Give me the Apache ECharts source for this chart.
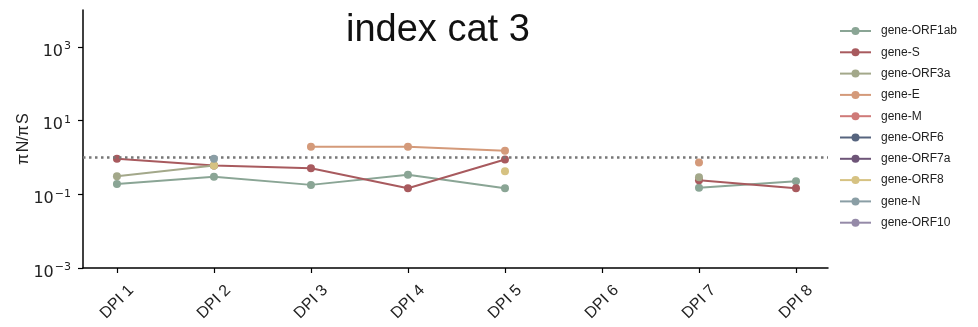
<!DOCTYPE html>
<html>
<head>
<meta charset="utf-8">
<script src="https://cdn.jsdelivr.net/npm/echarts@6/dist/echarts.min.js"></script>
<style>html,body{margin:0;padding:0;background:#fff}#c{width:978px;height:327px}</style>
</head>
<body>
<div id="c"></div>
<script>
const categories = ['DPI 1','DPI 2','DPI 3','DPI 4','DPI 5','DPI 6','DPI 7','DPI 8'];
const geneNames = ['gene-ORF1ab','gene-S','gene-ORF3a','gene-E','gene-M','gene-ORF6','gene-ORF7a','gene-ORF8','gene-N','gene-ORF10'];
const geneColors = ['#8aa595','#a85a5e','#a3a88a','#d49a7a','#cf7a78','#56647e','#6e5578','#d6c282','#8a9ea5','#958aa8'];
const ORF1ab = [0.19, 0.30, 0.18, 0.34, 0.146, null, 0.15, 0.225];
const S      = [0.92, 0.60, 0.51, 0.146, 0.88, null, 0.24, 0.146];
const ORF3a  = [0.31, 0.60, null, null, null, null, 0.29, null];
const E      = [null, null, 1.95, 1.95, 1.52, null, 0.73, null];
const M      = [null, null, null, null, null, null, null, null];
const ORF6   = [null, null, null, null, null, null, null, null];
const ORF7a  = [null, null, null, null, null, null, null, null];
const ORF8   = [null, 0.60, null, null, 0.42, null, null, null];
const N      = [null, 0.92, null, null, null, null, null, null];
const ORF10  = [null, null, null, null, null, null, null, null];
const seriesValues = [ORF1ab, S, ORF3a, E, M, ORF6, ORF7a, ORF8, N, ORF10];
const yTickValues = [0.001, 0.1, 10, 1000];
const yTickExponents = ['\u22123', '\u22121', '1', '3'];
const referenceLine = 1;

const font = '"Liberation Sans", Arial, Helvetica, sans-serif';
const mathFont = '"DejaVu Sans", sans-serif';
const chart = echarts.init(document.getElementById('c'), null, {renderer: 'canvas'});

const series = geneNames.map((name, i) => ({
  name: name,
  type: 'line',
  data: seriesValues[i].map((v, j) => [j, v === null ? '-' : v]),
  connectNulls: false,
  symbol: 'circle',
  symbolSize: 8,
  showSymbol: true,
  color: geneColors[i],
  lineStyle: {width: 2, color: geneColors[i]},
  itemStyle: {color: geneColors[i]},
  emphasis: {disabled: true},
  animation: false,
  z: 2 + i,
  markLine: i === 0 ? {
    silent: true,
    symbol: 'none',
    label: {show: false},
    lineStyle: {color: '#777', width: 2.5, type: [2.5, 3.5]},
    data: [{yAxis: referenceLine}],
    animation: false
  } : undefined
}));

chart.setOption({
  animation: false,
  backgroundColor: '#fff',
  title: {
    text: 'index cat 3',
    left: 341, top: 7,
    textStyle: {fontFamily: font, fontSize: 38, fontWeight: 'normal', color: '#111'}
  },
  legend: {
    orient: 'vertical',
    left: 834, top: 20,
    itemWidth: 31, itemHeight: 10,
    itemGap: 9.3,
    textStyle: {fontFamily: font, fontSize: 12, color: '#222', padding: [0, 0, 0, 5]},
    data: geneNames
  },
  grid: {left: 83, right: 150, top: 10, bottom: 59, containLabel: false},
  xAxis: {
    type: 'value',
    min: -0.35, max: 7.33,
    splitLine: {show: false},
    axisLine: {show: true, onZero: false, lineStyle: {color: '#000', width: 1.5}},
    axisTick: {show: true, customValues: categories.map((c, i) => i), length: 5, lineStyle: {color: '#000', width: 1.2}},
    axisLabel: {
      customValues: categories.map((c, i) => i),
      formatter: v => categories[Math.round(v)],
      rotate: 45, align: 'center', verticalAlign: 'middle', margin: 34,
      fontFamily: font, fontSize: 16, color: '#222'
    }
  },
  yAxis: {
    type: 'log', logBase: 10,
    min: 0.001, max: 10000,
    name: 'π\u200aN/π\u200aS',
    nameLocation: 'middle', nameGap: 51, nameRotate: 90,
    nameMoveOverlap: false,
    nameTextStyle: {fontFamily: font, fontSize: 16, color: '#222'},
    splitLine: {show: false},
    axisLine: {show: true, onZero: false, lineStyle: {color: '#000', width: 1.5}},
    axisTick: {show: true, customValues: yTickValues, length: 5, lineStyle: {color: '#000', width: 1.2}},
    axisLabel: {
      customValues: yTickValues,
      formatter: v => {
        const idx = yTickValues.findIndex(t => Math.abs(Math.log10(t) - Math.log10(v)) < 1e-6);
        return idx >= 0 ? '10{sup|' + yTickExponents[idx] + '}' : '';
      },
      margin: 12,
      padding: [9, 0, 0, 0],
      fontFamily: mathFont, fontSize: 16, color: '#222',
      rich: {sup: {fontFamily: mathFont, fontSize: 11, color: '#222', verticalAlign: 'top', padding: [0, 0, 10, 1]}}
    }
  },
  series: series
});
</script>
</body>
</html>
